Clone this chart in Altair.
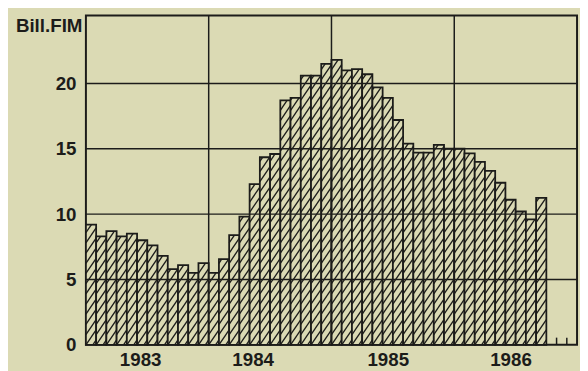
import altair as alt
import pandas as pd
import numpy as np

# ---- data ----
values = [9.2, 8.3, 8.7, 8.3, 8.5, 8.0, 7.6, 6.8, 5.8, 6.1, 5.5, 6.25,
          5.5, 6.55, 8.4, 9.8, 12.3, 14.35, 14.6, 18.7, 18.9, 20.6, 20.6, 21.5,
          21.8, 21.0, 21.1, 20.7, 19.7, 18.9, 17.2, 15.4, 14.7, 14.7, 15.3, 15.0,
          15.0, 14.65, 14.0, 13.3, 12.4, 11.1, 10.2, 9.6, 11.25]
years = ["1983", "1984", "1985", "1986"]
year_label_pos = [5.3, 16.3, 29.5, 41.5]
y_ticks = [0, 5, 10, 15, 20]
grid_y = [5, 10, 15, 20]
year_bounds = [12, 24, 36]
empty_month_ticks = [46, 47]

BG = "#dbdab4"
INK = "#1c1c1a"
FONT = "Liberation Sans"

bars = pd.DataFrame({
    "m": np.arange(len(values)),
    "m2": np.arange(len(values)) + 1,
    "v": values,
})

# hatch segments ("/" pattern) clipped to each bar
RISE, STEP = 1.15, 0.78
rows = []
for i, v in enumerate(values):
    k = int(np.floor(-RISE / STEP)) - 1
    b = k * STEP
    while b < v:
        x0, y0, x1, y1 = i, b, i + 1, b + RISE
        if y0 < 0:
            x0, y0 = i + (-b) / RISE, 0.0
        if y1 > v:
            x1, y1 = i + (v - b) / RISE, v
        if x1 > x0 + 1e-6:
            rows.append({"x": x0, "y": y0, "x2": x1, "y2": y1})
        b += STEP
hatch = pd.DataFrame(rows)

xs = alt.Scale(domain=[0, 48], nice=False, zero=False)
ys = alt.Scale(domain=[0, 25.2], nice=False)

label_expr = " : ".join(
    f"datum.value == {p} ? '{y}'" for p, y in zip(year_label_pos, years)
) + " : ''"

x_axis = alt.Axis(values=year_label_pos, labelExpr=label_expr, ticks=False,
                  domain=False, grid=False, title=None, labelFont=FONT,
                  labelFontSize=19, labelFontWeight="bold", labelColor=INK,
                  labelPadding=6)
y_axis = alt.Axis(values=y_ticks, ticks=False, domain=False, grid=False,
                  labelFont=FONT, labelFontSize=19, labelFontWeight="bold",
                  labelColor=INK, labelPadding=10, title="Bill.FIM",
                  titleAngle=0, titleAlign="right", titleBaseline="middle",
                  titleX=-4, titleY=10, titleFont=FONT, titleFontSize=19,
                  titleFontWeight="bold", titleColor=INK)

bar_layer = alt.Chart(bars).mark_rect(fill=BG, stroke=INK, strokeWidth=1.8).encode(
    x=alt.X("m:Q", scale=xs, axis=x_axis),
    x2="m2:Q",
    y=alt.Y("v:Q", scale=ys, axis=y_axis),
    y2=alt.datum(0),
)

hatch_layer = alt.Chart(hatch).mark_rule(stroke=INK, strokeWidth=1.35).encode(
    x=alt.X("x:Q", scale=xs), x2="x2:Q",
    y=alt.Y("y:Q", scale=ys), y2="y2:Q",
)

hgrid = alt.Chart(pd.DataFrame({"g": grid_y})).mark_rule(stroke=INK, strokeWidth=1.5).encode(
    y=alt.Y("g:Q", scale=ys)
)
vgrid = alt.Chart(pd.DataFrame({"b": year_bounds})).mark_rule(stroke=INK, strokeWidth=1.5).encode(
    x=alt.X("b:Q", scale=xs)
)
mticks = alt.Chart(pd.DataFrame({"t": empty_month_ticks})).mark_rule(stroke=INK, strokeWidth=1.5).encode(
    x=alt.X("t:Q", scale=xs), y=alt.datum(0), y2=alt.datum(0.55)
)

chart = alt.layer(bar_layer, hatch_layer, hgrid, vgrid, mticks).properties(
    width=498, height=334,
    autosize=alt.AutoSizeParams(type="none"),
    padding={"left": 79, "top": 5, "right": 3, "bottom": 24},
    background=BG,
).configure_view(stroke=INK, strokeWidth=2, fill=BG)

chart.save("out.html", embed_options={"renderer": "svg", "actions": False})
